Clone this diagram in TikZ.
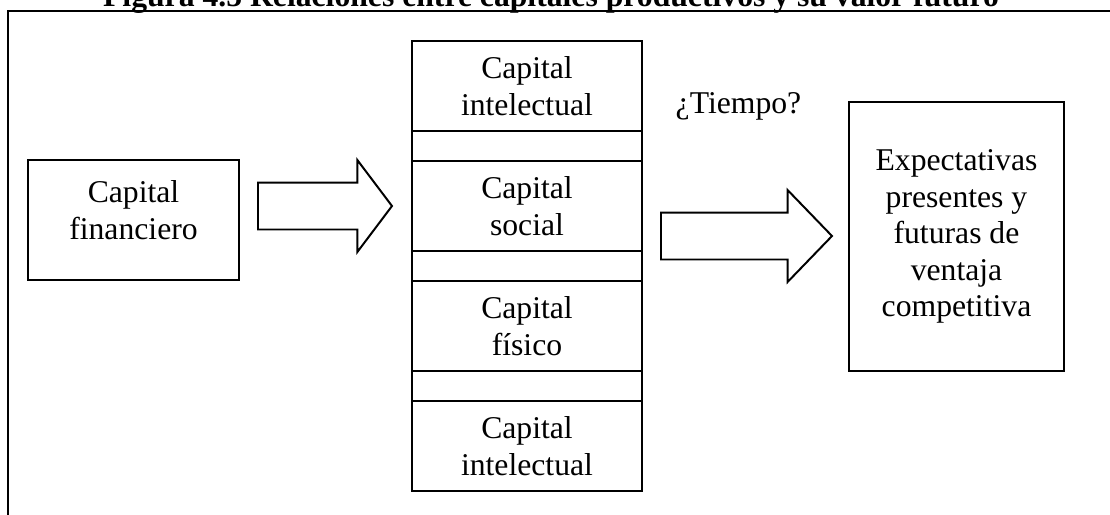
\documentclass[tikz,border=0pt]{standalone}
\usepackage{fontspec}
\setmainfont{Liberation Serif}
\usetikzlibrary{positioning, shapes.arrows}

\newcommand{\pxu}{0.3788pt}

\begin{document}
\begin{tikzpicture}[x=\pxu, y=-\pxu, line width=0.75pt]
\tikzset{
    every node/.style={align=center, font=\fontsize{12}{13.8}\selectfont},
    capbox/.style={draw, inner sep=0pt, outer sep=0pt, minimum width={230*\pxu}, minimum height={90*\pxu}},
    gapbox/.style={draw, inner sep=0pt, outer sep=0pt, minimum width={230*\pxu}, minimum height={30*\pxu}},
    blockarrow/.style={draw, single arrow, anchor=tail, inner xsep=0pt, inner ysep={22.5*\pxu}, outer sep=0pt, single arrow head extend={22.5*\pxu}}
}
\useasboundingbox (0,0) rectangle (1110,514);

% titulo y marco
\node[anchor=base, font=\fontsize{12}{13.8}\selectfont\bfseries] (titulo) at (551,6.5) {Figura 4.5 Relaciones entre capitales productivos y su valor futuro};
\draw (8,530) |- (1130,11);

% capital financiero
\node[draw, inner sep=0pt, minimum width={211*\pxu}, minimum height={120*\pxu}, text depth={20*\pxu}] (fin) at (133.5,220) {Capital\\financiero};

% columna de capitales
\node[capbox] (intel) at (527,86) {Capital\\intelectual};
\node[gapbox, below=0pt of intel] (gapa) {};
\node[capbox, below=0pt of gapa] (social) {Capital\\social};
\node[gapbox, below=0pt of social] (gapb) {};
\node[capbox, below=0pt of gapb] (fisico) {Capital\\físico};
\node[gapbox, below=0pt of fisico] (gapc) {};
\node[capbox, below=0pt of gapc] (intelb) {Capital\\intelectual};

% expectativas
\node[draw, inner sep=0pt, minimum width={215*\pxu}, minimum height={269*\pxu}] (expect) at (956.5,236.5) {Expectativas\\presentes y\\futuras de\\ventaja\\competitiva};

% flechas
\node[blockarrow, minimum height={134*\pxu}, single arrow tip angle=106] (flechaa) at (258,206) {};
\node[blockarrow, minimum height={171*\pxu}, single arrow tip angle=92] (flechab) at (661,236) {};

\node[anchor=base] (tiempo) at (738.5,113) {¿Tiempo?};
\end{tikzpicture}
\end{document}
